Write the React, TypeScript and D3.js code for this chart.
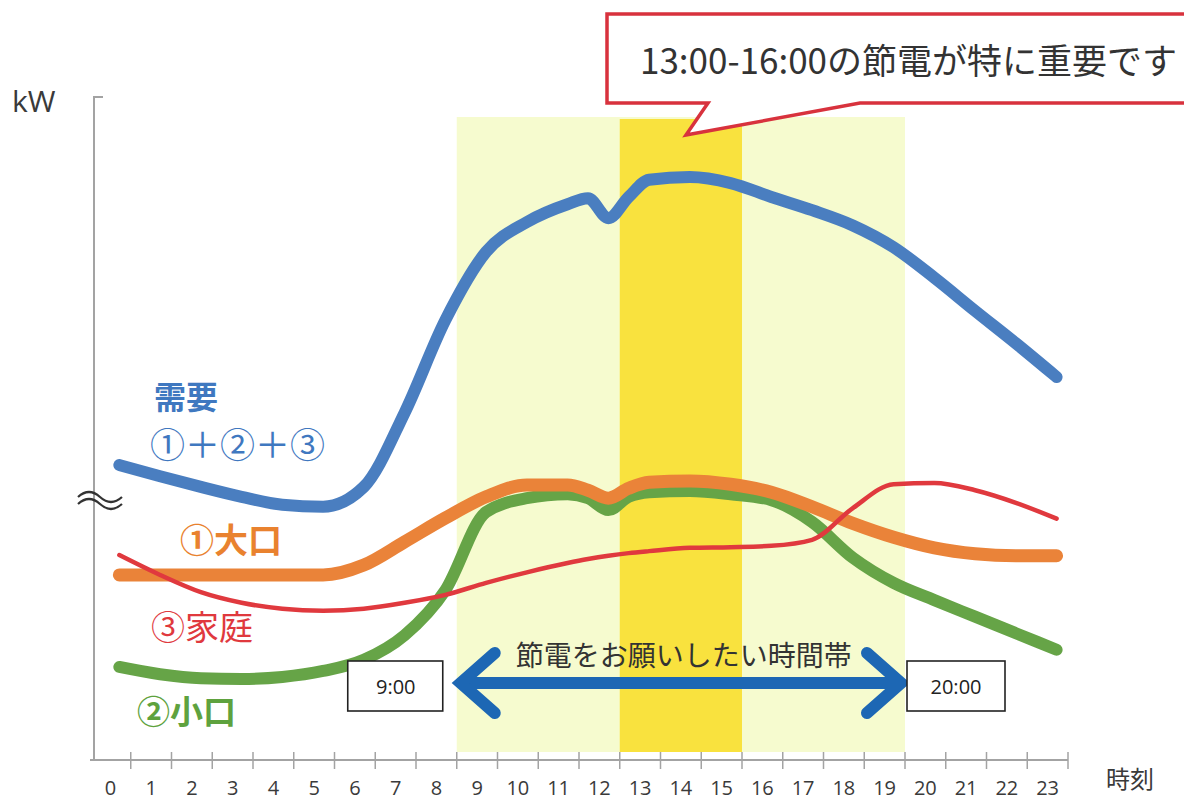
import * as d3 from "d3";

// time points (hours) at which the curves were read, half hours around the lunch dip
const TIMES = [0, 1, 2, 3, 4, 5, 6, 7, 8, 9, 10, 11, 11.5, 12, 12.5, 13, 14, 15, 16, 17, 18, 19, 20, 21, 22, 23];

// 需要 ①+②+③
const DEMAND = [44.4, 42.7, 41.1, 39.6, 38.4, 38.1, 41.1, 52.3, 66.3, 76.6, 81.1, 83.8, 84.7, 81.7, 84.9, 87.5, 87.9, 87.0, 84.9, 82.9, 80.6, 77.3, 72.7, 67.7, 62.8, 57.7];
// ①大口
const LARGE = [27.8, 27.8, 27.8, 27.8, 27.8, 27.8, 29.3, 32.8, 36.4, 39.6, 41.4, 41.4, 40.6, 39.4, 40.9, 41.8, 42.0, 41.5, 40.3, 38.1, 35.6, 33.5, 31.9, 31.0, 30.7, 30.7];
// ②小口
const SMALL = [13.9, 12.8, 12.2, 12.1, 12.4, 13.3, 15.0, 18.7, 25.5, 37.3, 39.4, 40.0, 39.4, 37.6, 39.6, 40.3, 40.5, 40.0, 39.1, 35.8, 30.4, 26.6, 24.0, 21.5, 19.0, 16.5];
// ③家庭
const HOME = [30.8, 27.8, 25.2, 23.6, 22.7, 22.4, 22.7, 23.6, 24.8, 26.6, 28.2, 29.6, 30.2, 30.7, 31.1, 31.4, 31.9, 32.0, 32.2, 33.1, 37.9, 41.5, 41.7, 40.6, 38.7, 36.3];

const HOUR_LABELS = ["0", "1", "2", "3", "4", "5", "6", "7", "8", "9", "10", "11", "12", "13", "14", "15", "16", "17", "18", "19", "20", "21", "22", "23"];

const REQUEST_SPAN = [9, 20]; // 節電をお願いしたい時間帯
const PEAK_SPAN = [13, 16]; // 特に重要

const JP = "'Noto Sans CJK JP', 'Noto Sans', sans-serif";
const NUM = "'Open Sans', 'Noto Sans', sans-serif";

export default function App() {
  const width = 1184;
  const height = 801;

  // hour axis: each hour is one slot between ticks
  const x = d3.scaleLinear().domain([0, 24]).range([90, 1068]);
  const y = d3.scaleLinear().domain([0, 100]).range([759, 97]);
  const axisY = 760;
  const bandTop = 117;
  const bandBottom = 752;

  // curves sit a bit right of the slot start
  const lx = (t: number) => x(t + 0.72);

  const line = d3
    .line<number>()
    .x((_d, i) => lx(TIMES[i]))
    .y((d) => y(d))
    .curve(d3.curveMonotoneX);

  const series = [
    { key: "demand", values: DEMAND, color: "#4a7ec0", w: 12 },
    { key: "small", values: SMALL, color: "#66a447", w: 12 },
    { key: "large", values: LARGE, color: "#ea8339", w: 13 },
    { key: "home", values: HOME, color: "#e0393e", w: 4.5 },
  ];

  const ticks = d3.range(1, 25);

  const arrowY = 683;
  const ax0 = x(REQUEST_SPAN[0]);
  const ax1 = x(REQUEST_SPAN[1]);
  const arrowColor = "#1d67b4";

  return (
    <svg
      width={width}
      height={height}
      style={{ position: "absolute", left: 0, top: 0, background: "#fff" }}
    >
      {/* highlight bands */}
      <rect
        x={x(REQUEST_SPAN[0])}
        y={bandTop}
        width={x(REQUEST_SPAN[1]) - x(REQUEST_SPAN[0])}
        height={bandBottom - bandTop}
        fill="#f6fbcf"
      />
      <rect
        x={x(PEAK_SPAN[0])}
        y={bandTop + 2}
        width={x(PEAK_SPAN[1]) - x(PEAK_SPAN[0])}
        height={bandBottom - bandTop - 2}
        fill="#f9e23e"
      />

      {/* axes */}
      <path d={`M103,97 H94 V${axisY}`} fill="none" stroke="#a3a3a3" strokeWidth={2} />
      <line x1={x(0)} x2={x(24)} y1={axisY} y2={axisY} stroke="#a3a3a3" strokeWidth={2} />
      {ticks.map((t) => (
        <line key={t} x1={x(t)} x2={x(t)} y1={axisY - 8} y2={axisY + 9} stroke="#a3a3a3" strokeWidth={1.5} />
      ))}
      {HOUR_LABELS.map((s, i) => (
        <text
          key={s}
          x={x(i + 0.5)}
          y={795}
          textAnchor="middle"
          fontFamily={NUM}
          fontSize={20}
          fill="#3a3a3a"
        >
          {s}
        </text>
      ))}
      <text x={12} y={112} fontFamily={NUM} fontSize={30} fill="#3a3a3a">kW</text>
      <text x={1106} y={788} fontFamily={JP} fontSize={24} fill="#3a3a3a">時刻</text>

      {/* axis break mark */}
      <g fill="none" stroke="#333" strokeWidth={2.2}>
        <path d="M78,497 q11,-10 22,0 t22,0" />
        <path d="M78,504 q11,-10 22,0 t22,0" />
      </g>

      {/* curves */}
      {series.map((s) => (
        <path
          key={s.key}
          d={line(s.values) ?? ""}
          fill="none"
          stroke={s.color}
          strokeWidth={s.w}
          strokeLinecap="round"
          strokeLinejoin="round"
        />
      ))}

      {/* series labels */}
      <text x={154} y={409} fontFamily={JP} fontSize={32} fontWeight={700} fill="#3f78c0">需要</text>
      <text x={150} y={458} fontFamily={JP} fontSize={35} fill="#3f78c0">①＋②＋③</text>
      <text x={180} y={553} fontFamily={JP} fontSize={34} fontWeight={700} fill="#e9822f">①大口</text>
      <text x={151} y={640} fontFamily={JP} fontSize={34} fill="#e0393e">③家庭</text>
      <text x={137} y={724} fontFamily={JP} fontSize={33} fontWeight={700} fill="#5ea23e">②小口</text>

      {/* request period arrow */}
      <g stroke={arrowColor} strokeWidth={12} fill="none" strokeLinecap="round">
        <line x1={ax0 + 10} x2={ax1 - 10} y1={arrowY} y2={arrowY} />
        <path d={`M${ax0 + 38},${arrowY - 30} L${ax0 + 4},${arrowY} L${ax0 + 38},${arrowY + 30}`} strokeLinejoin="miter" />
        <path d={`M${ax1 - 38},${arrowY - 30} L${ax1 - 4},${arrowY} L${ax1 - 38},${arrowY + 30}`} strokeLinejoin="miter" />
      </g>
      <text x={(ax0 + ax1) / 2 + 3} y={666} textAnchor="middle" fontFamily={JP} fontSize={28} fill="#333">
        節電をお願いしたい時間帯
      </text>

      {/* start / end boxes */}
      <rect x={ax0 - 109} y={661} width={95} height={50} fill="#fff" stroke="#222" strokeWidth={1.6} />
      <text x={ax0 - 61} y={694} textAnchor="middle" fontFamily={NUM} fontSize={20} fill="#222">9:00</text>
      <rect x={ax1 + 2} y={661} width={98} height={50} fill="#fff" stroke="#222" strokeWidth={1.6} />
      <text x={ax1 + 51} y={694} textAnchor="middle" fontFamily={NUM} fontSize={20} fill="#222">20:00</text>

      {/* callout */}
      <path
        d="M607,14 H1195 V103 H860 L686,135 L708,103 H607 Z"
        fill="#fff"
        stroke="#d8323d"
        strokeWidth={3.5}
        strokeLinejoin="miter"
      />
      <text x={640} y={74} fontFamily={JP} fontSize={35} fill="#333">
        13:00-16:00の節電が特に重要です
      </text>
    </svg>
  );
}
